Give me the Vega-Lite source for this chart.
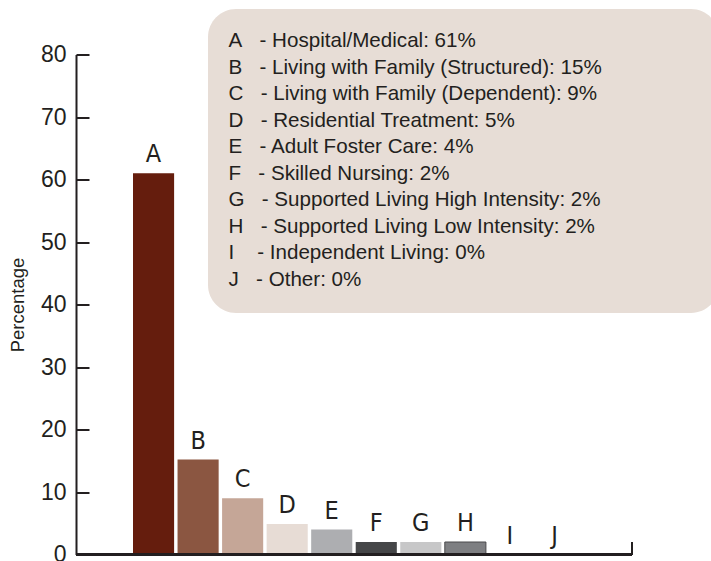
{
  "$schema": "https://vega.github.io/schema/vega-lite/v6.json",
  "width": 556,
  "height": 500,
  "autosize": "none",
  "padding": {"left": 76, "top": 54.5, "right": 79, "bottom": 6.5},
  "background": "white",
  "config": {"view": {"stroke": null}, "font": "Liberation Sans"},
  "data": {"values": [
    {"letter": "A", "value": 61, "label": "A\u00a0\u00a0\u00a0- Hospital/Medical: 61%"},
    {"letter": "B", "value": 15.2, "label": "B\u00a0\u00a0\u00a0- Living with Family (Structured): 15%"},
    {"letter": "C", "value": 9, "label": "C\u00a0\u00a0\u00a0- Living with Family (Dependent): 9%"},
    {"letter": "D", "value": 4.9, "label": "D\u00a0\u00a0\u00a0- Residential Treatment: 5%"},
    {"letter": "E", "value": 4, "label": "E\u00a0\u00a0\u00a0- Adult Foster Care: 4%"},
    {"letter": "F", "value": 2, "label": "F\u00a0\u00a0\u00a0- Skilled Nursing: 2%"},
    {"letter": "G", "value": 2, "label": "G\u00a0\u00a0\u00a0- Supported Living High Intensity: 2%"},
    {"letter": "H", "value": 2, "label": "H\u00a0\u00a0\u00a0- Supported Living Low Intensity: 2%"},
    {"letter": "I", "value": 0, "label": "I\u00a0\u00a0\u00a0\u00a0- Independent Living: 0%"},
    {"letter": "J", "value": 0, "label": "J\u00a0\u00a0\u00a0- Other: 0%"}
  ]},
  "layer": [
    {
      "layer": [
        {
          "mark": {"type": "bar"},
          "encoding": {
            "x": {
              "field": "letter", "type": "nominal", "sort": null,
              "scale": {"paddingInner": 0.077, "paddingOuter": 0, "range": [57, 499]},
              "axis": null
            },
            "y": {
              "field": "value", "type": "quantitative",
              "scale": {"domain": [0, 80]},
              "axis": {
                "title": "Percentage", "titleFontSize": 18.5, "titleFont": "Liberation Sans", "titleFontWeight": "normal", "titleColor": "#231f20", "titlePadding": 13,
                "values": [0, 10, 20, 30, 40, 50, 60, 70, 80],
                "grid": false, "domainColor": "#231f20", "domainWidth": 2,
                "tickColor": "#231f20", "tickWidth": 2, "tickSize": -13,
                "labelFontSize": 23, "labelColor": "#231f20", "labelPadding": 23
              }
            },
            "color": {
              "field": "label", "type": "nominal",
              "scale": {"range": ["#651d0d", "#8b5641", "#c5a697", "#e7dcd5", "#adaeb1", "#454648", "#c7c7c8", "#7e7f82", "#ffffff", "#ffffff"]},
              "legend": {
                "title": null, "orient": "none", "legendX": 132, "legendY": -45.5,
                "fillColor": "#e7ddd6", "cornerRadius": 28, "padding": 22,
                "labelFontSize": 20.6, "labelFont": "Liberation Sans", "labelColor": "#231f20", "labelLimit": 600,
                "labelOffset": -478, "rowPadding": 5.5,
                "symbolSize": 1, "symbolOpacity": 0, "symbolStrokeWidth": 0, "symbolOffset": 456
              }
            },
            "stroke": {"condition": {"test": "datum.letter === 'H'", "value": "#4a4a4c"}, "value": null}
          }
        },
        {
          "mark": {"type": "text", "dy": -11, "baseline": "alphabetic", "fontSize": 25, "font": "Liberation Sans Narrow, DejaVu Sans Condensed, Liberation Sans", "color": "#231f20"},
          "encoding": {
            "x": {"field": "letter", "type": "nominal", "sort": null},
            "y": {"field": "value", "type": "quantitative"},
            "text": {"field": "letter"}
          }
        }
      ]
    },
    {
      "mark": {"type": "rule", "color": "#231f20", "strokeWidth": 2},
      "encoding": {
        "x": {"datum": 0, "type": "quantitative", "scale": {"domain": [0, 1]}, "axis": null},
        "x2": {"datum": 1},
        "y": {"datum": 0, "type": "quantitative"}
      }
    },
    {
      "mark": {"type": "rule", "color": "#231f20", "strokeWidth": 2},
      "encoding": {
        "x": {"datum": 1, "type": "quantitative", "scale": {"domain": [0, 1]}, "axis": null},
        "y": {"datum": 0, "type": "quantitative"},
        "y2": {"datum": 2}
      }
    }
  ],
  "resolve": {"scale": {"x": "independent"}}
}
